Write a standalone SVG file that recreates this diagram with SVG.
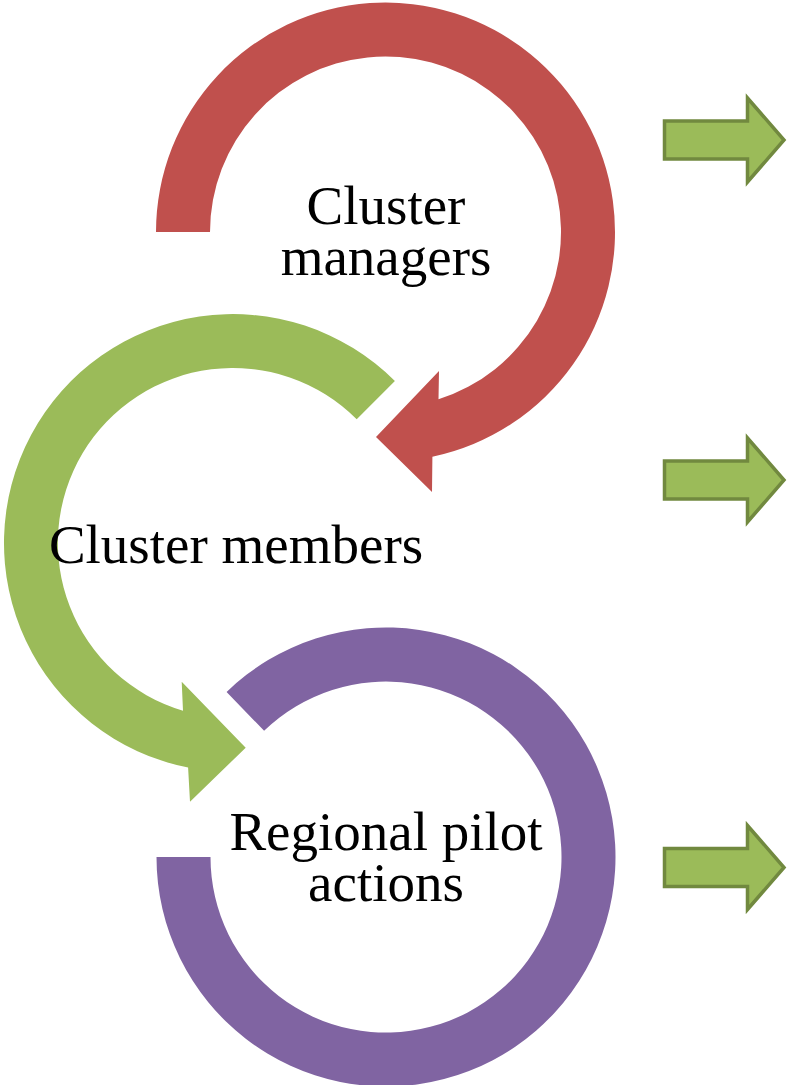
<svg xmlns="http://www.w3.org/2000/svg" width="788" height="1085" viewBox="0 0 788 1085">
  <defs>
    <style>
      .label { font-family: "Liberation Serif", "Times New Roman", serif; font-size: 55px; fill: #000; text-anchor: middle; }
      .red { fill: #C0504D; }
      .green { fill: #9BBB59; }
      .purple { fill: #8064A2; }
      .block { fill: #9BBB59; stroke: #71893F; stroke-width: 3.5; stroke-linejoin: miter; }
    </style>
    <!-- right-pointing block arrow, centred vertically on y=0 -->
    <polygon id="blockArrow" points="664.5,-19 747.5,-19 747.5,-42 784,0 747.5,42 747.5,19 664.5,19"/>
  </defs>

  <rect width="788" height="1085" fill="#fff"/>

  <!-- Cluster managers: clockwise circular arrow -->
  <g id="cluster-managers">
    <path class="red" d="M156,232 A229.5,229.5 0 1 1 432.4,456.7 L432,492 L376,437 L439,371 L438.5,399.3 A175.5,175.5 0 1 0 210,232 Z"/>
    <text class="label" x="386" y="224">Cluster</text>
    <text class="label" x="386" y="275">managers</text>
  </g>

  <!-- Cluster members: counter-clockwise circular arrow -->
  <g id="cluster-members">
    <path class="green" d="M394.9,381.1 A229,229 0 1 0 188.1,767.6 L190,801.7 L245.7,747.7 L181.7,681.7 L183,710.7 A175,175 0 1 1 356.7,419.3 Z"/>
    <text class="label" x="236" y="563">Cluster members</text>
  </g>

  <!-- Regional pilot actions: open ring -->
  <g id="regional-pilot-actions">
    <path class="purple" d="M156.5,857 A229.5,229.5 0 1 0 226.6,691.9 L264.1,730.8 A175.5,175.5 0 1 1 210.5,857 Z"/>
    <text class="label" x="386" y="850">Regional pilot</text>
    <text class="label" x="386" y="901">actions</text>
  </g>

  <!-- block arrows on the right -->
  <g id="side-arrows">
    <use href="#blockArrow" class="block" transform="translate(0,140)"/>
    <use href="#blockArrow" class="block" transform="translate(0,480)"/>
    <use href="#blockArrow" class="block" transform="translate(0,867.5)"/>
  </g>
</svg>
